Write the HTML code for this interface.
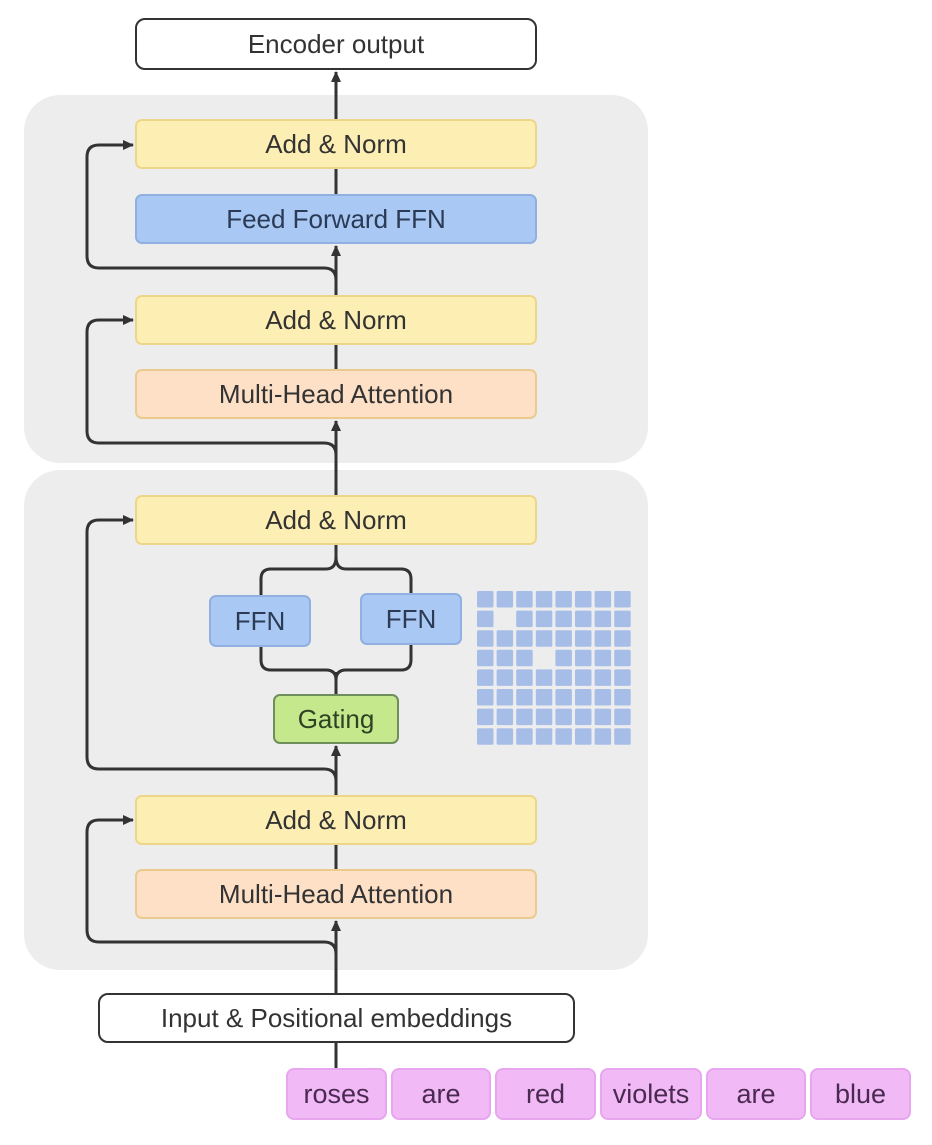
<!DOCTYPE html>
<html><head><meta charset="utf-8"><style>
body{margin:0;width:932px;height:1145px;background:#fff;position:relative;overflow:hidden;font-family:"Liberation Sans",sans-serif}
.p{position:absolute;background:#ededed;border-radius:36px}
.b{position:absolute;box-sizing:border-box;display:flex;align-items:center;justify-content:center;font-size:26px;color:#333;border-radius:7px;border:2px solid}
.y{background:#fdefb4;border-color:#ecd68a}
.bl{background:#a9c8f3;border-color:#8fb0e0;color:#2b3a55}
.o{background:#fde0c6;border-color:#ebc98f}
.g{background:#c6e88c;border-color:#6e8f5c;color:#2f4224}
.w{background:#fff;border-color:#333;border-width:2.5px;border-radius:10px}
.t{background:#f1b9f6;border-color:#e8a6ef;color:#4a2a50;border-radius:8px;font-size:27px}
</style></head><body>
<div class="p" style="left:24px;top:95px;width:624px;height:368px"></div>
<div class="p" style="left:24px;top:470px;width:624px;height:500px"></div>
<svg style="position:absolute;left:0;top:0" width="932" height="1145">
<defs><marker id="a" markerWidth="12" markerHeight="12" refX="10" refY="6" orient="auto" markerUnits="userSpaceOnUse"><path d="M0,1 L11,6 L0,11 z" fill="#333"/></marker></defs>
<g stroke="#333" stroke-width="3" fill="none">
<line x1="336" y1="1068" x2="336" y2="1043"/>
<line x1="336" y1="993" x2="336" y2="921" marker-end="url(#a)"/>
<line x1="336" y1="869" x2="336" y2="845"/>
<line x1="336" y1="795" x2="336" y2="746" marker-end="url(#a)"/>
<line x1="336" y1="694" x2="336" y2="672"/>
<path d="M261,647 V660 Q261,670 271,670 H326 Q336,670 336,680 Q336,670 346,670 H401 Q411,670 411,660 V645"/>
<path d="M261,595 V579 Q261,569 271,569 H326 Q336,569 336,557 Q336,569 346,569 H401 Q411,569 411,579 V593"/>
<line x1="336" y1="557" x2="336" y2="545"/>
<line x1="336" y1="495" x2="336" y2="421" marker-end="url(#a)"/>
<line x1="336" y1="369" x2="336" y2="345"/>
<line x1="336" y1="295" x2="336" y2="246" marker-end="url(#a)"/>
<line x1="336" y1="194" x2="336" y2="169"/>
<line x1="336" y1="119" x2="336" y2="72" marker-end="url(#a)"/>
<path d="M336,290 V280 Q336,268 324,268 H99 Q87,268 87,256 V157 Q87,145 99,145 H133" marker-end="url(#a)"/>
<path d="M336,465 V455 Q336,443 324,443 H99 Q87,443 87,431 V332 Q87,320 99,320 H133" marker-end="url(#a)"/>
<path d="M336,790 V781 Q336,769 324,769 H99 Q87,769 87,757 V532 Q87,520 99,520 H133" marker-end="url(#a)"/>
<path d="M336,960 V954 Q336,942 324,942 H99 Q87,942 87,930 V832 Q87,820 99,820 H133" marker-end="url(#a)"/>
</g>
<g fill="#a6bde8" id="grid"></g>
</svg>
<div class="b w" style="left:135px;top:18px;width:402px;height:52px">Encoder output</div>
<div class="b y" style="left:135px;top:119px;width:402px;height:50px">Add &amp; Norm</div>
<div class="b bl" style="left:135px;top:194px;width:402px;height:50px">Feed Forward FFN</div>
<div class="b y" style="left:135px;top:295px;width:402px;height:50px">Add &amp; Norm</div>
<div class="b o" style="left:135px;top:369px;width:402px;height:50px">Multi-Head Attention</div>
<div class="b y" style="left:135px;top:495px;width:402px;height:50px">Add &amp; Norm</div>
<div class="b bl" style="left:209px;top:595px;width:102px;height:52px">FFN</div>
<div class="b bl" style="left:360px;top:593px;width:102px;height:52px">FFN</div>
<div class="b g" style="left:273px;top:694px;width:126px;height:50px">Gating</div>
<div class="b y" style="left:135px;top:795px;width:402px;height:50px">Add &amp; Norm</div>
<div class="b o" style="left:135px;top:869px;width:402px;height:50px">Multi-Head Attention</div>
<div class="b w" style="left:98px;top:993px;width:477px;height:50px">Input &amp; Positional embeddings</div>
<div class="b t" style="left:286px;top:1068px;width:101px;height:52px">roses</div>
<div class="b t" style="left:391px;top:1068px;width:100px;height:52px">are</div>
<div class="b t" style="left:495px;top:1068px;width:101px;height:52px">red</div>
<div class="b t" style="left:600px;top:1068px;width:102px;height:52px">violets</div>
<div class="b t" style="left:706px;top:1068px;width:100px;height:52px">are</div>
<div class="b t" style="left:810px;top:1068px;width:101px;height:52px">blue</div>
<script>
var g=document.getElementById('grid'),s='';
for(var r=0;r<8;r++)for(var c=0;c<8;c++){if((r==1&&c==1)||(r==3&&c==3))continue;
s+='<rect x="'+(477+c*19.6)+'" y="'+(591+r*19.6)+'" width="16.5" height="16.5" rx="1.5"/>';}
g.innerHTML=s;
</script>
</body></html>
